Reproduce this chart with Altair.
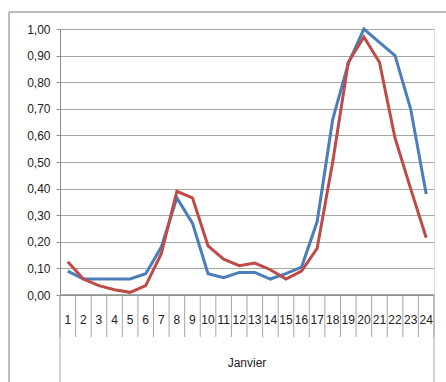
import altair as alt
import pandas as pd

hours = list(range(1, 25))
blue = [0.09, 0.06, 0.06, 0.06, 0.06, 0.08, 0.18, 0.365, 0.27, 0.08, 0.065, 0.085,
        0.085, 0.06, 0.08, 0.105, 0.275, 0.66, 0.87, 1.00, 0.95, 0.90, 0.70, 0.38]
red = [0.125, 0.06, 0.035, 0.02, 0.01, 0.035, 0.155, 0.39, 0.365, 0.185, 0.135, 0.11,
       0.12, 0.095, 0.06, 0.09, 0.175, 0.50, 0.875, 0.97, 0.875, 0.59, 0.40, 0.215]
y_ticks = [0.0, 0.1, 0.2, 0.3, 0.4, 0.5, 0.6, 0.7, 0.8, 0.9, 1.0]
group_label = "Janvier"

W, H = 374, 266
FONT = "Liberation Sans"

df = pd.DataFrame({"h": hours * 2, "v": blue + red,
                   "s": ["A"] * 24 + ["B"] * 24})
xs = alt.Scale(domain=[0.5, 24.5], nice=False, zero=False)
ys = alt.Scale(domain=[0, 1], nice=False)

base_y = alt.Y("v:Q", scale=ys,
               axis=alt.Axis(values=y_ticks, labelExpr="replace(format(datum.value, '.2f'), '.', ',')",
                             title=None, grid=True, gridColor="#A6A6A6", gridWidth=1,
                             domainColor="#8C8C8C", domainWidth=1, tickColor="#8C8C8C",
                             tickSize=4, labelFont=FONT, labelFontSize=12, labelColor="#222222",
                             labelPadding=6))

lines = alt.Chart(df).mark_line(strokeWidth=3).encode(
    x=alt.X("h:Q", scale=xs, axis=None),
    y=base_y,
    color=alt.Color("s:N", scale=alt.Scale(domain=["A", "B"], range=["#4A7EBB", "#BE4B48"]), legend=None),
)

bounds = pd.DataFrame({"b": [h - 0.5 for h in hours] + [hours[-1] + 0.5]})
seps = alt.Chart(bounds).mark_rule(color="#A6A6A6", strokeWidth=1).encode(
    x=alt.X("b:Q", scale=xs, axis=None), y=alt.value(H), y2=alt.value(H + 42))
outer = alt.Chart(pd.DataFrame({"b": [0.5, 24.5]})).mark_rule(color="#A6A6A6", strokeWidth=1).encode(
    x=alt.X("b:Q", scale=xs, axis=None), y=alt.value(H), y2=alt.value(H + 100))
xaxis = alt.Chart(pd.DataFrame({"a": [0.5], "b": [24.5]})).mark_rule(color="#8C8C8C", strokeWidth=1.5).encode(
    x=alt.X("a:Q", scale=xs, axis=None), x2="b:Q", y=alt.value(H))

labels = alt.Chart(pd.DataFrame({"h": hours})).mark_text(
    font=FONT, fontSize=12, color="#222222", baseline="middle").encode(
    x=alt.X("h:Q", scale=xs, axis=None), y=alt.value(H + 25), text="h:N")
glabel = alt.Chart(pd.DataFrame({"t": [group_label]})).mark_text(
    font=FONT, fontSize=12, color="#222222", baseline="middle").encode(
    x=alt.value(W / 2), y=alt.value(H + 68), text="t:N")

border_top = alt.Chart(pd.DataFrame({"t": [0]})).mark_rule(color="#A6A6A6", strokeWidth=1.5).encode(
    x=alt.value(-51), x2=alt.value(390), y=alt.value(-17))
border_left = alt.Chart(pd.DataFrame({"t": [0]})).mark_rule(color="#A6A6A6", strokeWidth=1.5).encode(
    x=alt.value(-51), y=alt.value(-17), y2=alt.value(400))

chart = alt.layer(seps, outer, xaxis, lines, labels, glabel, border_top, border_left).properties(
    width=W, height=H,
    autosize=alt.AutoSizeParams(type="none"),
    padding={"left": 60, "top": 29, "right": 12, "bottom": 87},
).configure_view(stroke=None).configure(background="white")

chart.save("out.html", embed_options={"renderer": "svg", "actions": False})
